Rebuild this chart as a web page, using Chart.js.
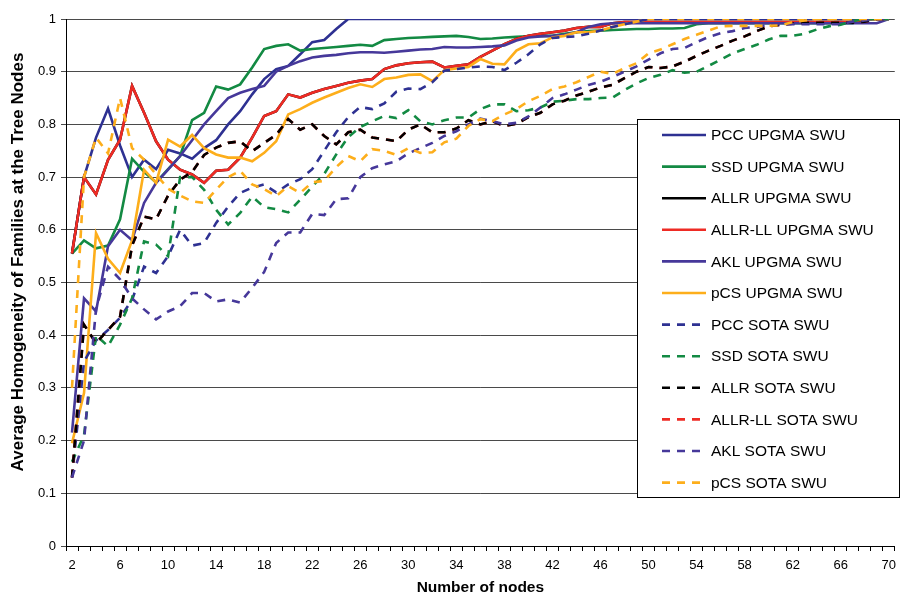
<!DOCTYPE html>
<html><head><meta charset="utf-8">
<script src="https://cdn.jsdelivr.net/npm/chart.js@4.4.1/dist/chart.umd.min.js"></script>
<style>html,body{margin:0;padding:0;background:#fff;}#wrap{position:relative;width:903px;height:597px;}</style>
</head><body><div id="wrap"><canvas id="c" width="903" height="597"></canvas></div>
<script>
const categories = [2,3,4,5,6,7,8,9,10,11,12,13,14,15,16,17,18,19,20,21,22,23,24,25,26,27,28,29,30,31,32,33,34,35,36,37,38,39,40,41,42,43,44,45,46,47,48,49,50,51,52,53,54,55,56,57,58,59,60,61,62,63,64,65,66,67,68,69,70];
const yTickLabels = ['0','0.1','0.2','0.3','0.4','0.5','0.6','0.7','0.8','0.9','1'];
const seriesLabels = ['PCC UPGMA SWU','SSD UPGMA SWU','ALLR UPGMA SWU','ALLR-LL UPGMA SWU','AKL UPGMA SWU','pCS UPGMA SWU','PCC SOTA SWU','SSD SOTA SWU','ALLR SOTA SWU','ALLR-LL SOTA SWU','AKL SOTA SWU','pCS SOTA SWU'];
const xTitle = 'Number of nodes';
const yTitle = 'Average Homogeneity of Families at the Tree Nodes';

const pccUpgma = [.555,.70,.775,.83,.76,.70,.733,.715,.752,.745,.735,.755,.77,.80,.825,.857,.886,.905,.911,.933,.956,.96,.981,1,1,1,1,1,1,1,1,1,1,1,1,1,1,1,1,1,1,1,1,1,1,1,1,1,1,1,1,1,1,1,1,1,1,1,1,1,1,1,1,1,1,1,1,1,1];
const ssdUpgma = [.555,.58,.565,.57,.62,.735,.71,.69,.715,.74,.808,.822,.872,.866,.876,.908,.943,.949,.952,.94,.943,.945,.947,.949,.951,.949,.96,.962,.964,.965,.966,.967,.968,.966,.962,.963,.965,.966,.967,.968,.968,.972,.975,.977,.978,.979,.98,.981,.981,.982,.982,.983,.99,.992,.992,.992,.992,.992,.992,.992,.992,.992,.992,.992,.992,.992,1,1,1];
const allrllUpgma = [.555,.70,.667,.733,.771,.873,.822,.768,.733,.714,.705,.689,.712,.714,.737,.775,.816,.825,.857,.851,.86,.867,.873,.879,.883,.886,.905,.912,.916,.918,.919,.908,.911,.914,.928,.94,.952,.962,.968,.972,.975,.978,.983,.985,.985,.992,.994,.994,.994,.994,.994,.994,.994,.994,.994,.994,.994,.994,.994,.994,.994,.994,.994,.994,.994,.994,1,1,1];
const allrUpgma = [.555,.70,.667,.733,.771,.873,.822,.768,.733,.714,.705,.689,.712,.714,.737,.775,.816,.825,.857,.851,.86,.867,.873,.879,.883,.886,.905,.912,.916,.918,.919,.908,.911,.914,.928,.94,.952,.962,.968,.972,.975,.978,.983,.985,.985,.992,.994,.994,.994,.994,.994,.994,.994,.994,.994,.994,.994,.994,.994,.994,.994,.994,.994,.994,.994,.994,1,1,1];
const aklUpgma = [.215,.47,.445,.569,.60,.58,.651,.689,.714,.74,.77,.80,.825,.85,.86,.867,.873,.90,.911,.92,.927,.93,.932,.935,.937,.937,.936,.938,.94,.942,.943,.947,.946,.946,.947,.948,.95,.959,.965,.967,.968,.97,.975,.985,.99,.992,.992,.992,.992,.992,.992,.992,.992,.992,.992,.992,.992,.992,.992,.992,.992,.992,.992,.992,.992,.992,.992,.992,1];
const pcsUpgma = [.195,.29,.594,.545,.518,.58,.714,.689,.771,.758,.78,.755,.743,.737,.737,.73,.746,.768,.819,.829,.841,.851,.86,.869,.876,.871,.886,.889,.894,.895,.882,.903,.906,.909,.924,.915,.914,.94,.952,.954,.965,.968,.975,.975,.978,.985,.99,.995,1,1,1,1,1,1,1,1,1,1,1,1,1,1,1,1,1,1,1,1,1];
const pccSota = [.13,.35,.39,.41,.433,.467,.53,.518,.55,.60,.57,.575,.613,.644,.67,.68,.686,.671,.686,.696,.715,.75,.785,.814,.833,.829,.84,.862,.868,.867,.88,.902,.905,.908,.91,.909,.903,.917,.933,.952,.964,.966,.967,.972,.978,.985,.99,.995,1,1,1,1,1,1,1,1,1,1,1,1,1,1,1,1,1,1,1,1,1];
const ssdSota = [.16,.21,.40,.379,.42,.47,.578,.572,.55,.70,.70,.676,.638,.61,.632,.663,.643,.639,.633,.657,.682,.706,.743,.776,.795,.806,.816,.812,.827,.806,.80,.808,.813,.813,.829,.838,.838,.825,.827,.832,.843,.845,.848,.848,.85,.851,.865,.878,.888,.894,.903,.898,.90,.911,.923,.935,.943,.951,.961,.968,.968,.972,.98,.986,.989,.996,1,1,1];
const allrSota = [.13,.42,.385,.41,.435,.57,.625,.62,.665,.695,.71,.742,.756,.765,.768,.749,.765,.78,.81,.79,.80,.778,.762,.785,.79,.775,.772,.768,.79,.80,.785,.785,.792,.808,.80,.806,.797,.801,.814,.822,.838,.845,.855,.862,.87,.875,.888,.90,.909,.907,.91,.919,.93,.94,.949,.959,.967,.977,.986,.989,.991,.993,.993,.993,.993,.993,.995,1,1];
const allrllSota = [.13,.42,.385,.41,.435,.57,.625,.62,.665,.695,.71,.742,.756,.765,.768,.749,.765,.78,.81,.79,.80,.778,.762,.785,.79,.775,.772,.768,.79,.80,.785,.785,.792,.808,.80,.806,.797,.801,.814,.822,.838,.845,.855,.862,.87,.875,.888,.90,.909,.907,.91,.919,.93,.94,.949,.959,.967,.977,.986,.989,.991,.993,.993,.993,.993,.993,.995,1,1];
const aklSota = [.13,.20,.45,.53,.506,.47,.449,.43,.445,.455,.48,.48,.464,.468,.462,.49,.52,.575,.595,.595,.63,.628,.658,.66,.70,.717,.724,.73,.745,.755,.765,.778,.787,.80,.811,.806,.80,.803,.815,.832,.85,.857,.866,.875,.881,.89,.90,.91,.923,.935,.943,.945,.956,.966,.973,.977,.983,.985,.989,.99,.99,.99,.99,.99,.99,.995,.997,1,1];
const pcsSota = [.30,.70,.775,.745,.85,.755,.733,.705,.678,.665,.654,.651,.676,.70,.712,.686,.677,.664,.683,.67,.69,.693,.719,.74,.73,.753,.75,.742,.755,.746,.747,.766,.773,.797,.81,.806,.819,.829,.844,.854,.867,.872,.88,.89,.90,.896,.907,.916,.935,.942,.952,.962,.97,.978,.986,.987,.987,.987,.987,.988,.994,.997,1,1,1,1,1,1,1];

const BLUE='#2E3192', GREEN='#138A43', BLACK='#000000', RED='#EE2B24', PURPLE='#46389A', ORANGE='#FDAE1B';
const DASH=[8,7];
const FONT="'Liberation Sans', Arial, sans-serif";

function ds(i, data, color, dashed, order){
  return {label: seriesLabels[i], data: data, borderColor: color, backgroundColor: color,
    borderWidth: 2.6, borderDash: dashed ? DASH : [], pointRadius: 0, fill: false, tension: 0,
    order: order};
}
const datasets = [
  ds(0, pccUpgma, BLUE, false, 0),
  ds(1, ssdUpgma, GREEN, false, -1),
  ds(2, allrUpgma, BLACK, false, -2),
  ds(3, allrllUpgma, RED, false, -3),
  ds(4, aklUpgma, PURPLE, false, -4),
  ds(5, pcsUpgma, ORANGE, false, -5),
  ds(6, pccSota, BLUE, true, -6),
  ds(7, ssdSota, GREEN, true, -7),
  ds(8, allrSota, BLACK, true, -8),
  ds(9, allrllSota, RED, true, -7.5),
  ds(10, aklSota, PURPLE, true, -10),
  ds(11, pcsSota, ORANGE, true, -11)
];

const boxLegend = {
  id: 'boxLegend',
  afterDraw(chart){
    const ctx = chart.ctx;
    ctx.save();
    const L = 637.5, T = 119.5, W = 262, H = 378;
    ctx.fillStyle = '#fff'; ctx.fillRect(L, T, W, H);
    ctx.strokeStyle = '#000'; ctx.lineWidth = 1; ctx.setLineDash([]); ctx.strokeRect(L, T, W, H);
    chart.data.datasets.forEach((d, i) => {
      const y = 135 + i * 31.6;
      ctx.beginPath();
      ctx.setLineDash(d.borderDash || []);
      ctx.strokeStyle = d.borderColor; ctx.lineWidth = 2.6;
      ctx.moveTo(662, y); ctx.lineTo(706, y); ctx.stroke();
      ctx.setLineDash([]);
      ctx.fillStyle = '#000'; ctx.font = '15.5px ' + FONT; ctx.textBaseline = 'middle'; ctx.textAlign = 'left';
      ctx.fillText(d.label, 711, y + 1);
    });
    ctx.save();
    ctx.translate(18, 262);
    ctx.rotate(-Math.PI / 2);
    ctx.fillStyle = '#000'; ctx.font = 'bold 17px ' + FONT; ctx.textAlign = 'center'; ctx.textBaseline = 'middle';
    ctx.fillText(yTitle, 0, 0);
    ctx.restore();
    ctx.restore();
  }
};

new Chart(document.getElementById('c'), {
  type: 'line',
  data: { labels: categories, datasets: datasets },
  options: {
    responsive: false, animation: false, devicePixelRatio: 1,
    layout: { padding: { left: 0, right: 3, top: 19, bottom: 0 } },
    plugins: { legend: { display: false }, tooltip: { enabled: false } },
    scales: {
      x: {
        type: 'category', offset: true,
        grid: { display: true, drawOnChartArea: false, drawTicks: true, tickLength: 5, offset: true, color: '#000' },
        border: { color: '#000', width: 1 },
        ticks: { autoSkip: false, maxRotation: 0, minRotation: 0, padding: 7, color: '#000',
          font: { family: FONT, size: 13 },
          callback: (v, i) => (i % 4 === 0 ? String(categories[i]) : '') },
        title: { display: true, text: xTitle, color: '#000', font: { family: FONT, size: 15.5, weight: 'bold' }, padding: { top: 5, bottom: 0 } },
        afterFit: s => { s.height = 51; }
      },
      y: {
        min: 0, max: 1,
        grid: { color: '#4a4a4a', lineWidth: 1, tickLength: 5, drawTicks: true },
        border: { color: '#000', width: 1 },
        ticks: { stepSize: 0.1, padding: 5, color: '#000', font: { family: FONT, size: 13 },
          callback: (v, i) => yTickLabels[i] },
        afterFit: s => { s.width = 66; }
      }
    }
  },
  plugins: [boxLegend]
});
</script></body></html>
